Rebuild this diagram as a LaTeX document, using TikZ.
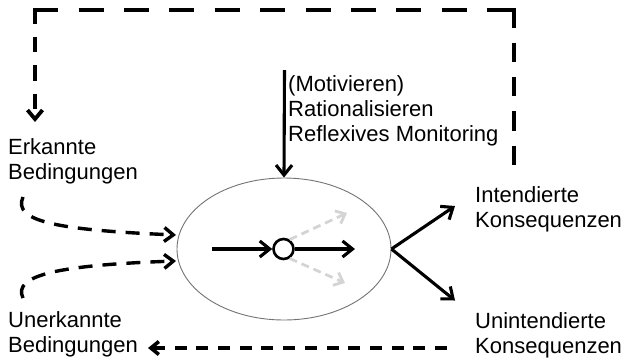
\documentclass[tikz,border=0pt]{standalone}
\usepackage{fontspec}
\setmainfont{Liberation Sans}
\usetikzlibrary{arrows.meta,shapes.geometric}
\begin{document}
\begin{tikzpicture}[x=1pt,y=-1pt,
  lbl/.style={anchor=base west, inner sep=0pt, align=left,
    font=\fontsize{22}{25}\selectfont},
  solidarr/.style={line width=3.1pt, -{Straight Barb[length=10pt,width=16pt]}},
  loopdash/.style={line width=3.8pt},
  smalldash/.style={line width=3.6pt, dash pattern=on 12pt off 9.7pt,
    -{Straight Barb[length=8pt,width=13pt]}},
  curvedash/.style={line width=3.4pt, dash pattern=on 14pt off 10pt,
    -{Straight Barb[length=9pt,width=14pt]}},
  greydash/.style={line width=2.8pt, draw=black!17, dash pattern=on 8pt off 5pt,
    -{Straight Barb[length=8pt,width=14pt]}}
]
\useasboundingbox (0,0) rectangle (622,360);

% labels (anchor = baseline of the last line)
\node[lbl] (erk) at (8,179) {Erkannte\\Bedingungen};
\node[lbl] (unerk) at (8,352.5) {Unerkannte\\Bedingungen};
\node[lbl] (motiv) at (288,141) {(Motivieren)\\Rationalisieren\\Reflexives Monitoring};
\node[lbl] (int) at (475,227) {Intendierte\\Konsequenzen};
\node[lbl] (unint) at (475,353) {Unintendierte\\Konsequenzen};

% central ellipse and circle
\node[draw=black!55, line width=0.9pt, ellipse, minimum width=214, minimum height=142,
  inner sep=0pt] (E) at (284,249) {};
\node[draw, circle, line width=2.6pt, minimum size=20, inner sep=0pt] (c) at (283.5,249) {};

% coordinates
\coordinate (mtop) at (284.5,70);
\coordinate (cin) at (212,249);
\coordinate (cout) at (355,249);
\coordinate (gup) at (347,213);
\coordinate (gdn) at (345,283);
\coordinate (intend) at (455,206);
\coordinate (unintend) at (455,300.5);
\coordinate (loopA) at (514,166);
\coordinate (loopB) at (514,8.1);
\coordinate (loopC) at (33.1,10);
\coordinate (loopC2) at (515.9,10);
\coordinate (loopD) at (35,8.1);
\coordinate (loopE) at (35,122);
\coordinate (botA) at (447,348);
\coordinate (botB) at (148,348);
\coordinate (upS) at (23,197);
\coordinate (upT) at (176,235);
\coordinate (loS) at (23,298);
\coordinate (loT) at (176,261);

% solid arrows
\draw[solidarr] (mtop) -- (E.north);
\draw[solidarr] (cin) -- (c.west);
\draw[solidarr] (c.east) -- (cout);
\draw[solidarr] (E.east) -- (intend);
\draw[solidarr] (E.east) -- (unintend);

% grey dashed arrows
\draw[greydash] (c.57) -- (gup);
\draw[greydash] (c.-57) -- (gdn);

% feedback loop
\draw[loopdash, dash pattern=on 19.5pt off 14.9pt] (loopB) -- (loopA);
\draw[loopdash, dash pattern=on 25pt off 20.4pt] (loopC) -- (loopC2);
\draw[loopdash, dash pattern=on 15.5pt off 13pt,
  -{Straight Barb[length=9pt,width=15pt]}] (loopD) -- (loopE);

% bottom dashed arrow
\draw[smalldash] (botA) -- (botB);

% curved dashed arrows
\draw[curvedash] (upS) .. controls (12,222) and (60,230) .. (upT);
\draw[curvedash] (loS) .. controls (12,275) and (60,265) .. (loT);
\end{tikzpicture}
\end{document}
